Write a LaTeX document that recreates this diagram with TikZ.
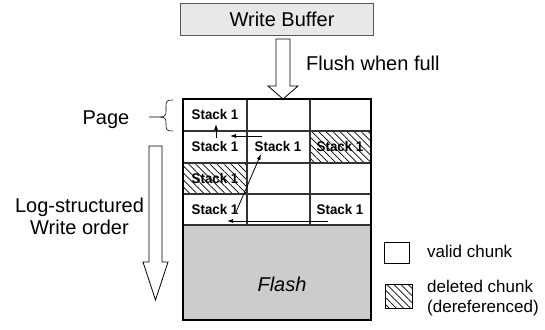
\documentclass[tikz,border=0pt]{standalone}
\usepackage{fontspec}
\setmainfont{Liberation Sans}
\newfontfamily\narrowfont[FakeStretch=0.95]{Liberation Sans}
\usetikzlibrary{arrows.meta,patterns.meta}
\begin{document}
\begin{tikzpicture}[x=1pt,y=-1pt,
  lbl/.style={font=\fontsize{20}{22}\selectfont, inner sep=0pt, anchor=base},
  stk/.style={font=\narrowfont\fontsize{14}{15}\selectfont\bfseries, inner sep=0pt, anchor=base},
  leg/.style={font=\fontsize{17}{20}\selectfont, inner sep=0pt, anchor=base west},
  gridline/.style={line width=1.3pt, draw=black!80},
  ptr/.style={line width=0.8pt, -{Latex[length=6pt,width=4pt]}},
  hatch/.style={pattern={Lines[angle=-45,distance=5pt,line width=0.7pt]}},
  block/.style={draw=black, line width=0.8pt, fill=white, line join=miter}]
\useasboundingbox (0,0) rectangle (545,329);

% write buffer
\node[draw=black!65, fill=black!9, line width=0.8pt, minimum width=193pt, minimum height=32pt, inner sep=0pt, anchor=north west] (wb) at (180,3) {};
\node[lbl] (wbtext) at (282,27) {Write Buffer};
\draw[block] (276,39) -- (290,39) -- (290,86) -- (298,86) -- (283,99) -- (268,86) -- (276,86) -- cycle;
\node[lbl, anchor=base west] (flush) at (306,70) {Flush when full};

% flash area
\fill[black!20] (183,225) rectangle (371,320);
\path[hatch] (310,131) rectangle (371,163);
\path[hatch] (183,163) rectangle (247,194);
\foreach \x in {247,310} \draw[gridline] (\x,99) -- (\x,225);
\foreach \y in {131,163,194,225} \draw[gridline] (183,\y) -- (371,\y);
\draw[line width=2pt] (183,99) rectangle (371,320);

\node[stk] (c11) at (215,119) {Stack 1};
\node[stk] (c21) at (215,151) {Stack 1};
\node[stk] (c22) at (278,151) {Stack 1};
\node[stk] (c23) at (340,151) {Stack 1};
\node[stk] (c31) at (215,183) {Stack 1};
\node[stk] (c41) at (215,214) {Stack 1};
\node[stk] (c43) at (340,214) {Stack 1};
\node[lbl, font=\fontsize{20}{22}\selectfont\itshape] (flash) at (282,291) {Flash};

% pointers
\coordinate (a1s) at (328,221); \coordinate (a1e) at (227,221);
\coordinate (a2s) at (236,212); \coordinate (a2e) at (261,154);
\coordinate (a3s) at (262,136); \coordinate (a3e) at (230,136);
\coordinate (a4s) at (216,138); \coordinate (a4e) at (216,124);
\draw[ptr] (a1s) -- (a1e);
\draw[ptr] (a2s) -- (a2e);
\draw[ptr] (a3s) -- (a3e);
\draw[ptr] (a4s) -- (a4e);

% page brace
\node[lbl] (page) at (106,124) {Page};
\draw[line width=0.6pt] (173,100) .. controls (167,100) and (166,101) .. (166,106) -- (166,111)
  .. controls (166,115) and (165,117) .. (160,117) -- (149,117);
\draw[line width=0.6pt] (173,131) .. controls (167,131) and (166,130) .. (166,125) -- (166,123)
  .. controls (166,119) and (165,117) .. (160,117);

% log arrow
\draw[block] (149,146) -- (162,146) -- (162,262) -- (168,262) -- (155.5,300) -- (143,262) -- (149,262) -- cycle;
\node[lbl] (log1) at (79.5,212) {Log-structured};
\node[lbl] (log2) at (79.5,234) {Write order};

% legend
\node[draw, line width=0.8pt, minimum width=25pt, minimum height=21pt, inner sep=0pt, anchor=north west] (lv) at (384,242) {};
\node[leg] (lvt) at (427,257) {valid chunk};
\node[draw, hatch, line width=0.8pt, minimum width=27pt, minimum height=24pt, inner sep=0pt, anchor=north west] (ld) at (385,284) {};
\node[leg] (ldt) at (427,292) {deleted chunk};
\node[leg] (ldt2) at (427,312) {(dereferenced)};
\end{tikzpicture}
\end{document}
